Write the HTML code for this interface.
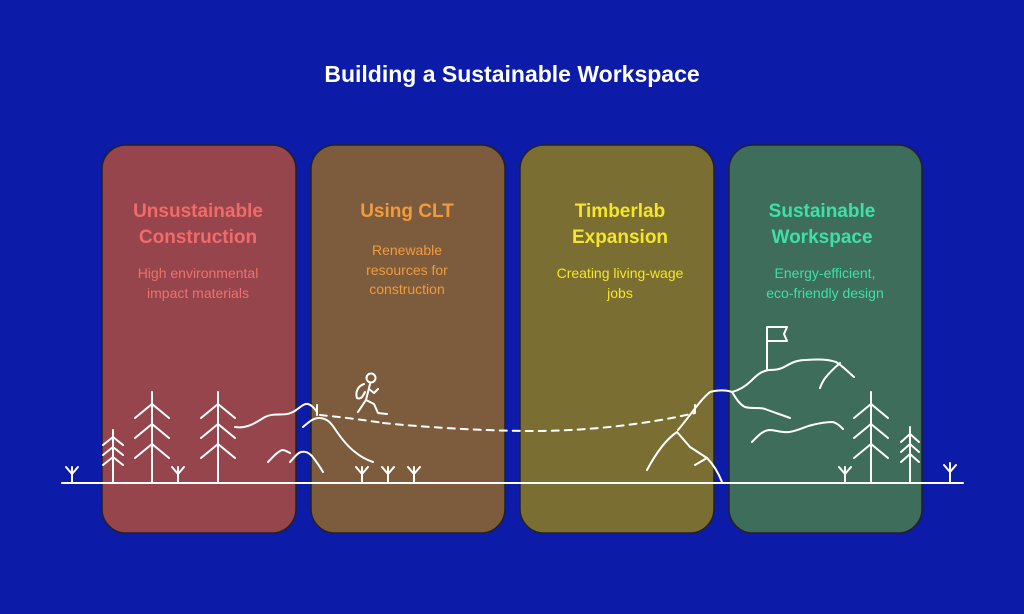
<!DOCTYPE html>
<html><head><meta charset="utf-8"><style>
html,body{margin:0;padding:0;background:#0c1ba8;}
svg{display:block}
text{font-family:"Liberation Sans",sans-serif;text-anchor:middle}
.h{font-weight:bold;font-size:19px}
.s{font-size:14px}
</style></head><body>
<svg width="1024" height="614" viewBox="0 0 1024 614" xmlns="http://www.w3.org/2000/svg">
<rect width="1024" height="614" fill="#0c1ba8"/>
<text x="512" y="82" fill="#fff" font-weight="bold" font-size="23">Building a Sustainable Workspace</text>
<g stroke="#222" stroke-width="1.5">
<rect x="102" y="145" width="194" height="388" rx="24" fill="#95454b"/>
<rect x="311" y="145" width="194" height="388" rx="24" fill="#7c5c3d"/>
<rect x="520" y="145" width="194" height="388" rx="24" fill="#7a6e33"/>
<rect x="729" y="145" width="193" height="388" rx="24" fill="#3f6d5b"/>
</g>
<text class="h" x="198" y="217" fill="#f26a6a">Unsustainable</text>
<text class="h" x="198" y="243" fill="#f26a6a">Construction</text>
<text class="s" x="198" y="278" fill="#ee7070">High environmental</text>
<text class="s" x="198" y="298" fill="#ee7070">impact materials</text>
<text class="h" x="407" y="217" fill="#f39a3a">Using CLT</text>
<text class="s" x="407" y="255" fill="#f39a3a">Renewable</text>
<text class="s" x="407" y="275" fill="#f39a3a">resources for</text>
<text class="s" x="407" y="294" fill="#f39a3a">construction</text>
<text class="h" x="620" y="217" fill="#f4e62a">Timberlab</text>
<text class="h" x="620" y="243" fill="#f4e62a">Expansion</text>
<text class="s" x="620" y="278" fill="#f4e62a">Creating living-wage</text>
<text class="s" x="620" y="298" fill="#f4e62a">jobs</text>
<text class="h" x="822" y="217" fill="#3fe0a8">Sustainable</text>
<text class="h" x="822" y="243" fill="#3fe0a8">Workspace</text>
<text class="s" x="825" y="278" fill="#3fe0a8">Energy-efficient,</text>
<text class="s" x="825" y="298" fill="#3fe0a8">eco-friendly design</text>
<g stroke="#fff" stroke-width="2" fill="none" stroke-linecap="round" stroke-linejoin="round">
<line x1="62" y1="483" x2="963" y2="483"/>
<path d="M113 483V430M103 445l10-8 10 8M103 455l10-8 10 8M103 465l10-8 10 8"/>
<path d="M152 483V392M135 418l17-14 17 14M135 438l17-14 17 14M135 458l17-14 17 14"/>
<path d="M218 483V392M201 418l17-14 17 14M201 438l17-14 17 14M201 458l17-14 17 14"/>
<path d="M178 483V467M172 467l6 7 6-7"/>
<path d="M72 483V467M66 467l6 7 6-7"/>
<path d="M362 483V467M356 467l6 7 6-7M388 483V467M382 467l6 7 6-7M414 483V467M408 467l6 7 6-7"/>
<path d="M235 427c12 2 20-4 30-10 10-5 18 0 28-5 6-3 10-9 15-8 4 1 7 5 9 8"/>
<path d="M303 427c6-5 10-9 16-9 8 0 12 5 16 11 6 9 12 17 20 23 6 5 12 8 18 10"/>
<path d="M268 462c5-5 9-10 14-12 3 0 6 2 8 3"/>
<path d="M290 462c4-4 7-9 11-10 5-1 8 1 11 4 4 5 8 11 11 16"/>
<path d="M317 405v10"/>
<path d="M320 415c20 2 45 5 63 8" stroke-dasharray="7 6"/>
<path d="M383 423c40 4 100 8 150 8 60 0 120-8 162-18" stroke-dasharray="7 6"/>
<circle cx="371" cy="378" r="4.5"/>
<path d="M370 384l-4 16-8 12M366 400l8 4 4 9 9 1M369 389l5 4 4-4M364 384c-6 2-9 8-7 14 4 2 6-2 8-6"/>
<path d="M695 405v7"/>
<path d="M647 470c8-15 18-30 30-38l13 15 17 11c6 6 11 14 15 24"/>
<path d="M695 465l12-7"/>
<path d="M678 430c12-14 22-30 32-38 8-2 16-2 22 0 8-2 14-6 20-12 6-6 10-9 17-10 8 0 12-1 17-4 7-4 12-6 20-6 12-1 22-1 30 2 8 5 12 10 18 15"/>
<path d="M820 388c2-6 5-12 20-25"/>
<path d="M732 392c4 6 7 12 13 15 7 2 14 0 20 2 8 3 17 6 25 9"/>
<path d="M752 442c6-6 10-11 17-12 7 0 13 3 20 2 8-1 15-5 23-7 8-2 15-3 21-3 4 1 7 4 10 7"/>
<path d="M767 370v-43h20l-3 7 3 7h-20"/>
<path d="M871 483V392M854 418l17-14 17 14M854 438l17-14 17 14M854 458l17-14 17 14"/>
<path d="M910 483V427M901 442l9-8 9 8M901 452l9-8 9 8M901 462l9-8 9 8"/>
<path d="M845 483V467M839 467l6 7 6-7M950 483V463M944 465l6 7 6-7"/>
</g>
</svg>
</body></html>
